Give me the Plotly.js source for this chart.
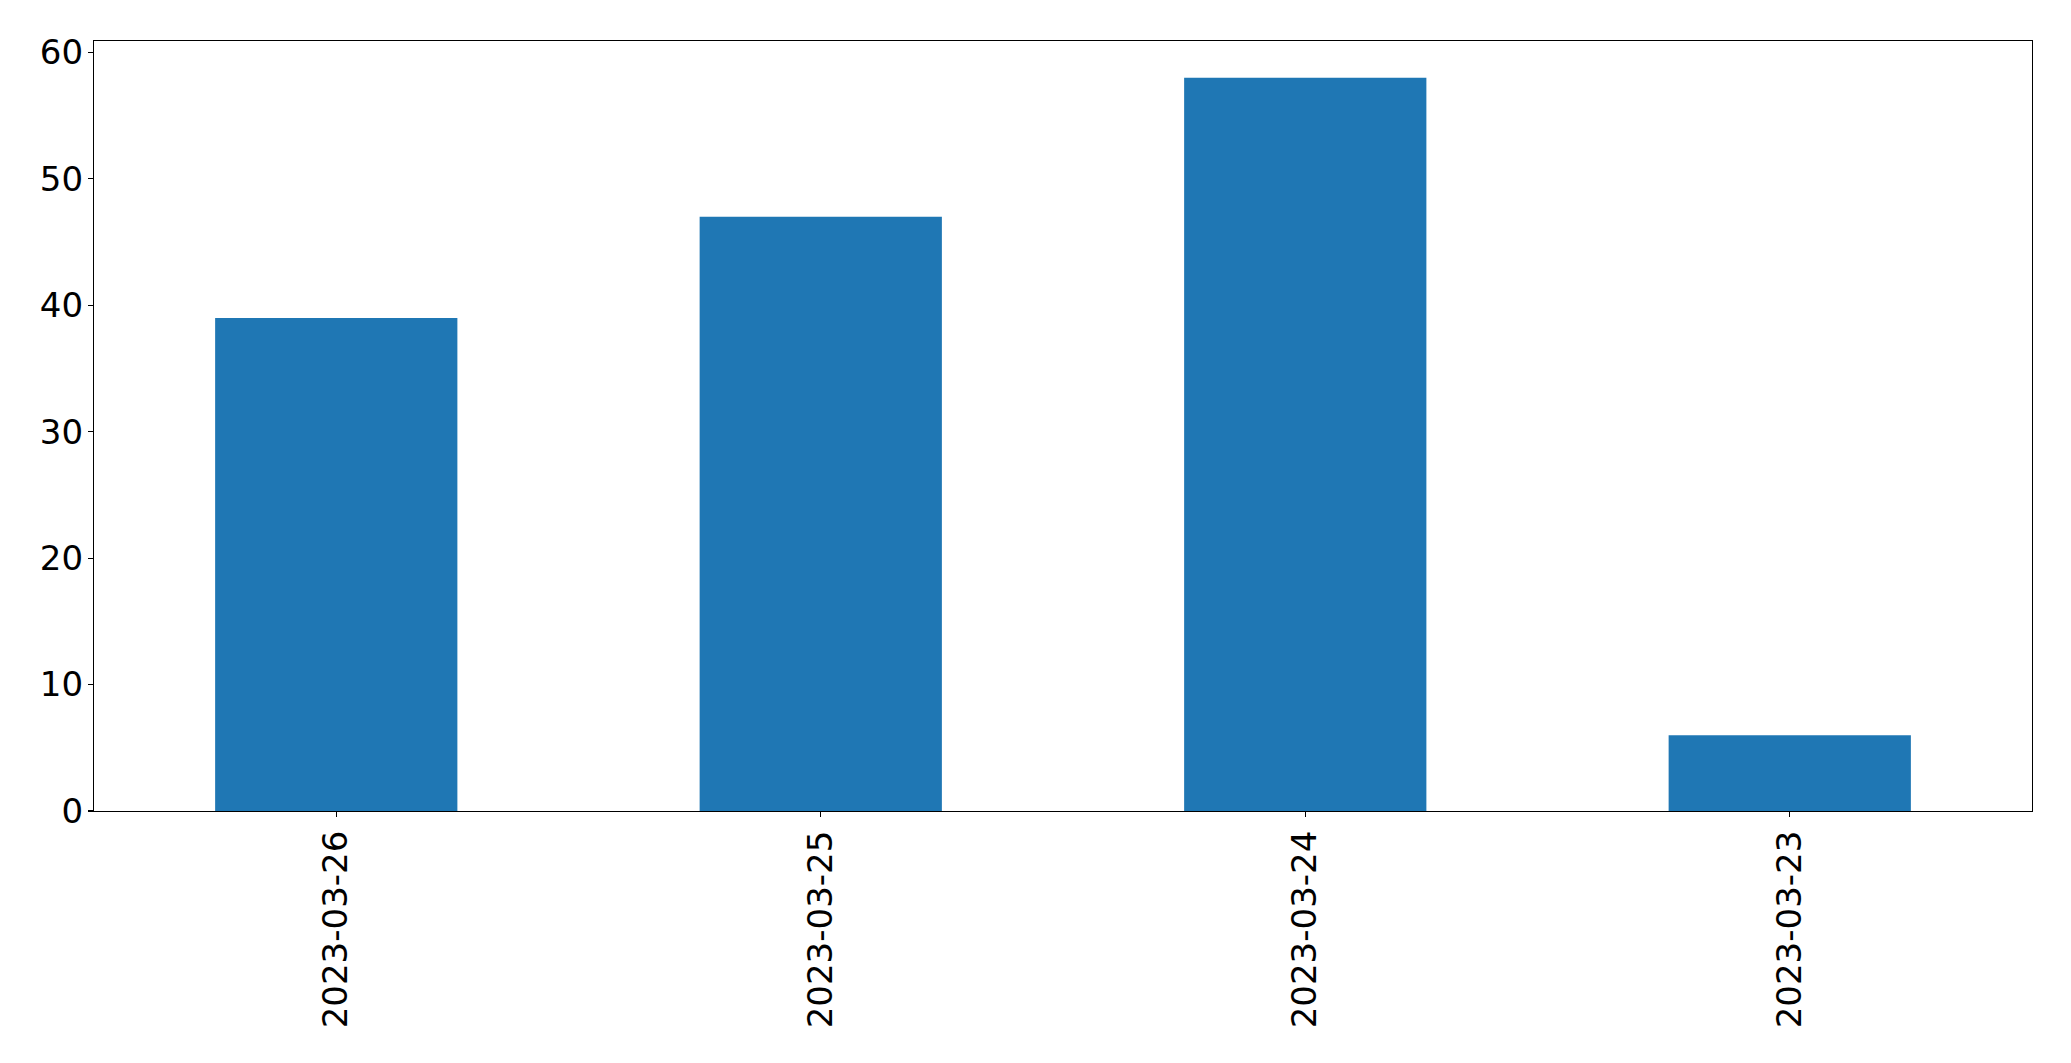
<!DOCTYPE html>
<html>
<head>
<meta charset="utf-8">
<script src="https://cdn.plot.ly/plotly-3.0.1.min.js"></script>
<style>html,body{margin:0;padding:0;background:#fff;}</style>
</head>
<body>
<div id="chart" style="width:2071px;height:1063px;"></div>
<script>
const categories = ["2023-03-26", "2023-03-25", "2023-03-24", "2023-03-23"];
const values = [39, 47, 58, 6];
const yTickVals = [0, 10, 20, 30, 40, 50, 60];

const trace = {
  type: "bar",
  x: categories,
  y: values,
  marker: {color: "#1f77b4", line: {width: 0}},
  width: 0.5,
  hoverinfo: "x+y"
};

const layout = {
  width: 2071,
  height: 1063,
  margin: {l: 94, r: 39, t: 41, b: 252, pad: 0},
  paper_bgcolor: "#ffffff",
  plot_bgcolor: "#ffffff",
  font: {family: "DejaVu Sans", size: 34, color: "#000000"},
  showlegend: false,
  xaxis: {
    type: "category",
    range: [-0.5, 3.5],
    tickangle: -90,
    ticks: "outside",
    ticklen: 5,
    tickwidth: 1.1,
    tickcolor: "#000",
    showline: true,
    linecolor: "#000",
    linewidth: 1.1,
    mirror: true,
    showgrid: false,
    zeroline: false,
    tickfont: {family: "DejaVu Sans", size: 34, color: "#000"}
  },
  yaxis: {
    range: [0, 60.9],
    tickvals: yTickVals,
    ticks: "outside",
    ticklen: 5,
    tickwidth: 1.1,
    tickcolor: "#000",
    showline: true,
    linecolor: "#000",
    linewidth: 1.1,
    mirror: true,
    showgrid: false,
    zeroline: false,
    ticklabelstandoff: -2,
    tickfont: {family: "DejaVu Sans", size: 34, color: "#000"}
  }
};

Plotly.newPlot("chart", [trace], layout, {displayModeBar: false, staticPlot: true});
</script>
</body>
</html>
